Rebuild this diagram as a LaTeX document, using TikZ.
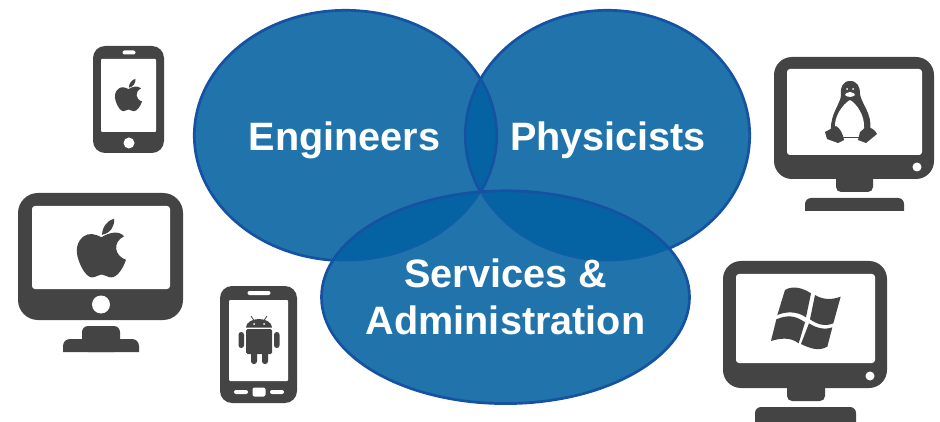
\documentclass[tikz,border=0pt]{standalone}
\usepackage{fontspec}
\setmainfont{Liberation Sans}
\usepackage{xcolor}
\definecolor{circleblue}{HTML}{2074AB}
\definecolor{overlapblue}{HTML}{0563A3}
\definecolor{edgeblue}{HTML}{1552A2}
\definecolor{faintblue}{HTML}{0F5FA6}
\definecolor{icongray}{HTML}{444444}
\tikzset{
  circlefill/.style={fill=circleblue},
  circleedge/.style={draw=edgeblue,line width=2.7pt},
  label/.style={text=white,font=\bfseries\fontsize{39.6}{46.7}\selectfont,align=center},
  icon/.style={fill=icongray},
  screen/.style={fill=white,rounded corners=3pt},
  hole/.style={fill=white}
}
\newcommand{\engineersshape}{(345.5,135.5) ellipse [x radius=151.2,y radius=125.2]}
\newcommand{\physicistsshape}{(607.5,135.5) ellipse [x radius=142.2,y radius=125.2]}
\newcommand{\servicesshape}{(505.5,297.2) ellipse [x radius=184,y radius=106.4]}
% apple logo, about 100 wide and 120 high round the origin
\newcommand{\applelogo}[3]{
  \begin{scope}[shift={(#1,#2)},scale=#3]
    \fill[icongray] (0,-22) .. controls (-12,-28) and (-25,-32) .. (-36,-24)
      .. controls (-50,-14) and (-54,4) .. (-47,24)
      .. controls (-41,42) and (-30,60) .. (-19,60)
      .. controls (-11,60) and (-7,54) .. (0,54)
      .. controls (7,54) and (12,60) .. (20,60)
      .. controls (32,60) and (44,42) .. (50,24)
      .. controls (26,16) and (22,-12) .. (46,-24)
      .. controls (36,-36) and (16,-32) .. (0,-22) -- cycle;
    \fill[icongray] (1,-27) .. controls (2,-44) and (12,-56) .. (26,-60)
      .. controls (27,-44) and (18,-30) .. (1,-27) -- cycle;
  \end{scope}
}
\begin{document}
\begin{tikzpicture}[x=1pt,y=-1pt]
\useasboundingbox (0,0) rectangle (940,422);

% the three groups
\path[circlefill] \engineersshape;
\path[circlefill] \physicistsshape;
\begin{scope}
  \clip \engineersshape;
  \fill[overlapblue] \physicistsshape;
\end{scope}
\draw[circleedge] \engineersshape;
\draw[circleedge] \physicistsshape;
\path[circlefill] \servicesshape;
\begin{scope}
  \clip \servicesshape;
  \fill[overlapblue] \engineersshape;
  \fill[overlapblue] \physicistsshape;
  \draw[draw=faintblue,line width=1.5pt] \engineersshape;
  \draw[draw=faintblue,line width=1.5pt] \physicistsshape;
\end{scope}
\draw[circleedge] \servicesshape;

\node[label,anchor=base] (engineers) at (344.5,150.5) {Engineers};
\node[label,anchor=base] (physicists) at (608,150.5) {Physicists};
\node[label] (services) at (505.5,296.5) {Services \&\\Administration};

% iphone
\fill[icon,rounded corners=12pt] (93,46) rectangle (164,153);
\fill[screen,rounded corners=1pt] (101,59) rectangle (156,132);
\fill[hole,rounded corners=2pt] (122.5,50.5) rectangle (135.5,54.5);
\fill[hole] (129,143) circle (5.5);
\applelogo{128.5}{95}{0.27}

% mac
\fill[icon,rounded corners=20pt] (18,193) rectangle (183,320);
\fill[screen] (32,206) rectangle (170,289);
\fill[hole] (101,304.5) circle (9);
\fill[icon,rounded corners=6pt] (82,352) -- (82,326) -- (120,326) -- (120,352) -- cycle;
\fill[icon] (63,352) -- (63,346) arc (180:270:7) -- (132,339) arc (270:360:7) -- (139,352) -- cycle;
\applelogo{101.5}{248}{0.49}

% android phone
\fill[icon,rounded corners=12pt] (220,286) rectangle (297,403);
\fill[screen,rounded corners=1pt] (229,300) rectangle (288,381);
\fill[hole,rounded corners=2pt] (247.5,291) rectangle (270.5,295);
\fill[hole,rounded corners=2pt] (234,390) rectangle (248,394);
\fill[hole,rounded corners=2pt] (252.5,387.5) rectangle (265.5,396.5);
\fill[hole,rounded corners=2pt] (270,390) rectangle (284,394);
% android robot
\fill[icon] (246,327.5) arc (180:360:13 and 8.5) -- cycle;
\draw[icongray,line width=0.8pt] (254,320.5) -- (251,316);
\draw[icongray,line width=0.8pt] (264,320.5) -- (267,316);
\fill[hole] (254,324) circle (1);
\fill[hole] (264,324) circle (1);
\fill[icon,rounded corners=1.5pt] (246,329) rectangle (272,354);
\fill[icon,rounded corners=2.7pt] (238.5,332) rectangle (244,348);
\fill[icon,rounded corners=2.7pt] (274,332) rectangle (279.5,348);
\fill[icon,rounded corners=2.7pt] (251,350) rectangle (257,364);
\fill[icon,rounded corners=2.7pt] (262,350) rectangle (268,364);

% linux monitor
\fill[icon,rounded corners=18pt] (774,57) rectangle (934,179);
\fill[screen] (787,69) rectangle (922,155);
\fill[hole] (917,167) circle (4.5);
\fill[icon,rounded corners=5pt] (836,170) rectangle (873,192);
\fill[icon] (805,211) -- (805,204) arc (180:270:6) -- (898,198) arc (270:360:6) -- (904,211) -- cycle;
% tux
\fill[icongray] (850,81) .. controls (843,81) and (840,87) .. (841,95)
  .. controls (841,103) and (830,114) .. (831,130) -- (870,130)
  .. controls (873,115) and (861,103) .. (860,94)
  .. controls (860,86) and (857,81) .. (850,81) -- cycle;
\fill[white] (850,100) .. controls (843,104) and (834,116) .. (835,128)
  .. controls (838,134) and (845,136) .. (850,136)
  .. controls (856,136) and (862,134) .. (864,128)
  .. controls (865,116) and (857,104) .. (850,100) -- cycle;
\fill[icongray] (825,132) -- (836,126) .. controls (840,128) and (843,134) .. (844,140)
  -- (838,143) -- (827,139) -- cycle;
\fill[icongray] (860,132) -- (866,127) .. controls (871,127) and (875,130) .. (877,134)
  -- (866,143) -- (858,140) -- cycle;
\draw[icongray,line width=1.4pt] (843,137.5) -- (859,137.5);
\fill[white] (850,92) .. controls (847,92) and (845,94) .. (845,95)
  .. controls (847,97.5) and (853,97.5) .. (855,95)
  .. controls (855,94) and (853,92) .. (850,92) -- cycle;
\fill[white] (847,89) circle (1);
\fill[white] (853,89) circle (1);

% windows monitor
\fill[icon,rounded corners=18pt] (723,261) rectangle (887,388);
\fill[screen] (736,274) rectangle (875,363);
\fill[hole] (870,376) circle (4.5);
\fill[icon,rounded corners=5pt] (787,380) rectangle (825,401);
\fill[icon] (755,422) -- (755,413) arc (180:270:6) -- (850,407) arc (270:360:6) -- (856,422) -- cycle;
% windows flag
\begin{scope}[shift={(700,40)},scale=1/3]
  \fill[icongray] (255,750) .. controls (280,735) and (310,745) .. (333,760)
    -- (318,832) .. controls (290,812) and (255,815) .. (232,825) -- cycle;
  \fill[icongray] (229,838) .. controls (260,825) and (285,825) .. (315,847)
    -- (296,910) .. controls (270,890) and (240,895) .. (213,903) -- cycle;
  \fill[icongray] (345,765) .. controls (370,780) and (395,780) .. (422,770)
    -- (400,850) .. controls (375,860) and (355,855) .. (330,838) -- cycle;
  \fill[icongray] (327,850) .. controls (350,865) and (375,870) .. (397,862)
    -- (382,920) .. controls (355,935) and (330,925) .. (303,912) -- cycle;
\end{scope}
\end{tikzpicture}
\end{document}
